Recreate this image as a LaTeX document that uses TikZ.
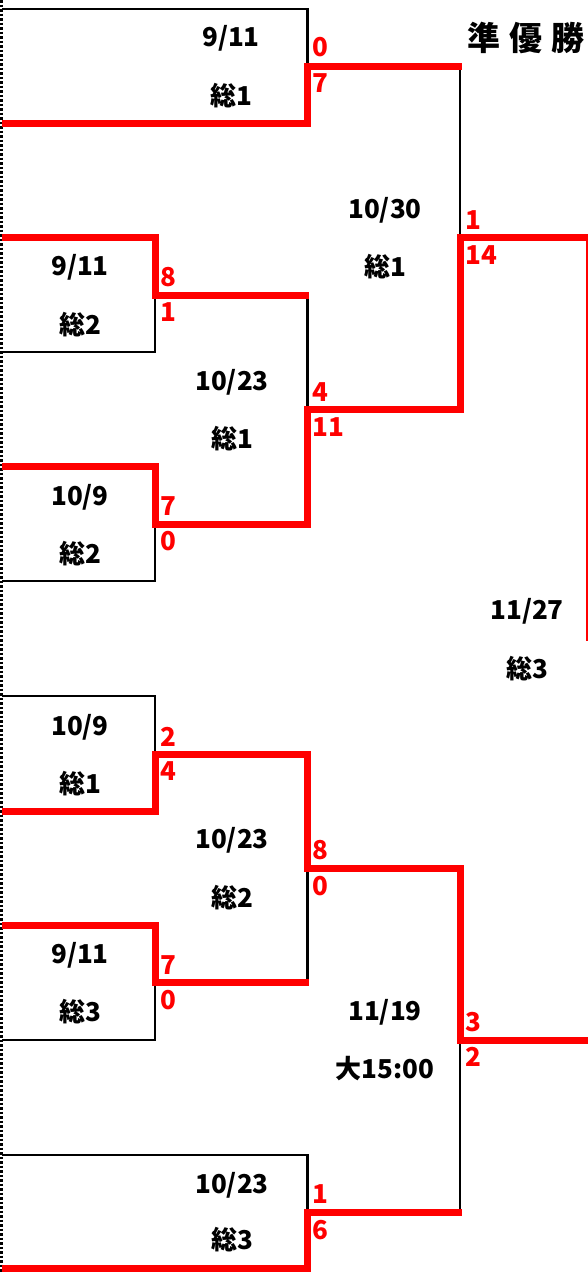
\documentclass[tikz,border=0pt]{standalone}
\usepackage{fontspec}
\newfontfamily\jp{Noto Sans CJK JP}
\begin{document}
\begin{tikzpicture}[x=1pt,y=-1pt,
  blk/.style={draw=black,line width=2.5pt,line join=miter},
  win/.style={draw=red,line width=7pt,line join=miter},
  dotline/.style={draw=black,line width=2.5pt,dash pattern=on 2.5pt off 2pt},
  lbl/.style={font=\jp\bfseries\fontsize{26}{26}\selectfont,text=black,inner sep=0pt,anchor=center},
  score/.style={font=\jp\bfseries\fontsize{26}{26}\selectfont,text=red,inner sep=0pt,anchor=west},
  ttl/.style={font=\jp\bfseries\fontsize{33}{33}\selectfont,text=black,inner sep=0pt,anchor=center}]
\clip (0,0) rectangle (588,1272);
\fill[white] (0,0) rectangle (588,1272);
% named coordinates
\coordinate (Ltop) at (1.5,0);
\coordinate (Lbot) at (1.5,1272);
\draw[dotline] (Ltop) -- (Lbot);
% ---------- black (losing) lines
\draw[blk] (2,9) -- (307.5,9) -- (307.5,66);
\draw[blk] (460,66) -- (460,237);
\draw[blk] (2,352) -- (155,352) -- (155,295);
\draw[blk] (2,581) -- (155,581) -- (155,524);
\draw[blk] (307.5,295) -- (307.5,409);
\draw[blk] (2,696) -- (155,696) -- (155,754);
\draw[blk] (2,1040) -- (155,1040) -- (155,982);
\draw[blk] (307.5,982) -- (307.5,868);
\draw[blk] (2,1155) -- (307.5,1155) -- (307.5,1212);
\draw[blk] (460,1212) -- (460,1040);
% ---------- red (winning) lines
\draw[win] (2,123) -- (307.5,123) -- (307.5,66) -- (461.5,66);
\draw[win] (2,237) -- (155,237) -- (155,295) -- (309,295);
\draw[win] (2,466) -- (155,466) -- (155,524) -- (307.5,524) -- (307.5,409) -- (460,409) -- (460,237) -- (589,237) -- (589,641);
\draw[win] (2,811) -- (155,811) -- (155,754) -- (307.5,754) -- (307.5,868) -- (460,868) -- (460,1040) -- (592,1040);
\draw[win] (2,925) -- (155,925) -- (155,982) -- (309,982);
\draw[win] (2,1268) -- (307.5,1268) -- (307.5,1212) -- (461.5,1212);
% ---------- title
\node[ttl] (title) at (526,38) {準\hspace{9pt}優\hspace{9pt}勝};
% ---------- match labels
\node[lbl] (dA) at (231,38) {9/11};
\node[lbl] (vA) at (231,96) {総1};
\node[score] (sA1) at (312,47.5) {0};
\node[score] (sA2) at (312,83) {7};
\node[lbl] (dB1) at (80,267) {9/11};
\node[lbl] (vB1) at (80,325) {総2};
\node[score] (sB11) at (160,277) {8};
\node[score] (sB12) at (160,312) {1};
\node[lbl] (dB2) at (80,497) {10/9};
\node[lbl] (vB2) at (80,554) {総2};
\node[score] (sB21) at (160,506) {7};
\node[score] (sB22) at (160,541) {0};
\node[lbl] (dB) at (232,382) {10/23};
\node[lbl] (vB) at (232,439) {総1};
\node[score] (sB1) at (312,392) {4};
\node[score] (sB2) at (312,427) {11};
\node[lbl] (dS) at (385,210) {10/30};
\node[lbl] (vS) at (385,267) {総1};
\node[score] (sS1) at (465,220) {1};
\node[score] (sS2) at (465,255) {14};
\node[lbl] (dF) at (527,611) {11/27};
\node[lbl] (vF) at (527,669) {総3};
\node[lbl] (dC1) at (80,727) {10/9};
\node[lbl] (vC1) at (80,784) {総1};
\node[score] (sC11) at (160,737) {2};
\node[score] (sC12) at (160,771) {4};
\node[lbl] (dC) at (232,840) {10/23};
\node[lbl] (vC) at (232,898) {総2};
\node[score] (sC1) at (312,850) {8};
\node[score] (sC2) at (312,886) {0};
\node[lbl] (dC2) at (80,955) {9/11};
\node[lbl] (vC2) at (80,1012) {総3};
\node[score] (sC21) at (160,965) {7};
\node[score] (sC22) at (160,1000) {0};
\node[lbl] (dE) at (385,1012) {11/19};
\node[lbl] (vE) at (385,1069) {大15:00};
\node[score] (sE1) at (465,1022) {3};
\node[score] (sE2) at (465,1057) {2};
\node[lbl] (dD) at (232,1185) {10/23};
\node[lbl] (vD) at (232,1240) {総3};
\node[score] (sD1) at (312,1194) {1};
\node[score] (sD2) at (312,1230) {6};
\end{tikzpicture}
\end{document}
